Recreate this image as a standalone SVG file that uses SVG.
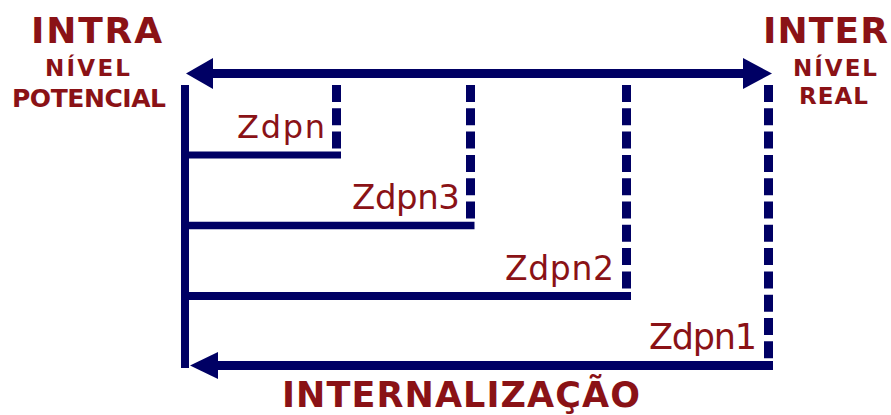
<svg xmlns="http://www.w3.org/2000/svg" width="891" height="415" viewBox="0 0 891 415">
<style>
.h{font-family:"DejaVu Sans","Liberation Sans",sans-serif;font-weight:bold;fill:#8a1216}
.z{font-family:"DejaVu Sans","Liberation Sans",sans-serif;fill:#8a1216}
.ln{stroke:#000064;fill:none}
.dash{stroke:#000064;stroke-width:9;stroke-dasharray:17 6.3;fill:none}
.ah{fill:#000064}
</style>
<rect width="891" height="415" fill="#fff"/>
<g id="labels">
<text class="h" x="31" y="43" font-size="36" textLength="131" lengthAdjust="spacing">INTRA</text>
<text class="h" x="45" y="76" font-size="23" textLength="85" lengthAdjust="spacing">NÍVEL</text>
<text class="h" x="12" y="106.5" font-size="25" textLength="154" lengthAdjust="spacing">POTENCIAL</text>
<text class="h" x="763" y="43" font-size="36" textLength="125" lengthAdjust="spacing">INTER</text>
<text class="h" x="793" y="76" font-size="23" textLength="84" lengthAdjust="spacing">NÍVEL</text>
<text class="h" x="799" y="104" font-size="23" textLength="69" lengthAdjust="spacing">REAL</text>
<text class="h" x="282" y="407" font-size="35" textLength="358" lengthAdjust="spacing">INTERNALIZAÇÃO</text>
</g>
<g id="connectors">
<line class="ln" x1="210" y1="73.5" x2="746" y2="73.5" stroke-width="9"/>
<polygon class="ah" points="186,73.5 213,58 213,89"/>
<polygon class="ah" points="772,73.5 743,58 743,89"/>
<line class="ln" x1="185" y1="85" x2="185" y2="368" stroke-width="8"/>
<line class="ln" x1="215" y1="365.5" x2="773" y2="365.5" stroke-width="9"/>
<polygon class="ah" points="190,365.5 218,352 218,379"/>
</g>
<g id="zdpn">
<line class="dash" x1="336.5" y1="85" x2="336.5" y2="152"/>
<line class="ln" x1="185" y1="155" x2="341" y2="155" stroke-width="7"/>
<text class="z" x="237" y="138" font-size="32" textLength="88" lengthAdjust="spacing">Zdpn</text>
</g>
<g id="zdpn3">
<line class="dash" x1="470.5" y1="85" x2="470.5" y2="222"/>
<line class="ln" x1="185" y1="225.5" x2="474.5" y2="225.5" stroke-width="7.5"/>
<text class="z" x="352" y="209" font-size="34" textLength="108" lengthAdjust="spacing">Zdpn3</text>
</g>
<g id="zdpn2">
<line class="dash" x1="626.5" y1="85" x2="626.5" y2="292"/>
<line class="ln" x1="185" y1="296" x2="631" y2="296" stroke-width="8"/>
<text class="z" x="505" y="280" font-size="33" textLength="109" lengthAdjust="spacing">Zdpn2</text>
</g>
<g id="zdpn1">
<line class="dash" x1="768.5" y1="85" x2="768.5" y2="361"/>
<text class="z" x="649" y="349" font-size="35" textLength="108" lengthAdjust="spacing">Zdpn1</text>
</g>
</svg>
